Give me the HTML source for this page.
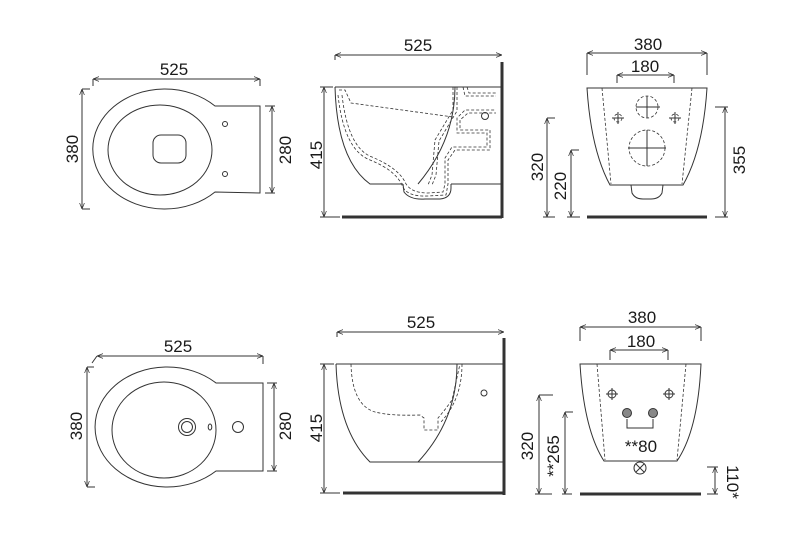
<!DOCTYPE html>
<html><head><meta charset="utf-8"><style>
html,body{margin:0;padding:0;background:#fff;}
svg{display:block}
text{font-family:"Liberation Sans",sans-serif;font-size:17px;fill:#1a1a1a;text-anchor:middle}
</style></head><body>
<svg width="800" height="545" viewBox="0 0 800 545" xmlns="http://www.w3.org/2000/svg">
<defs>
<marker id="a" viewBox="0 0 10 10" refX="10" refY="5" markerWidth="6" markerHeight="6" orient="auto-start-reverse"><path d="M0,1 L10,5 L0,9" fill="none" stroke="#333" stroke-width="1.2"/></marker>
</defs>
<g fill="none" stroke="#333" stroke-width="1">
<!-- ===== TOP LEFT plan ===== -->
<line x1="93" y1="79" x2="260" y2="79" marker-start="url(#a)" marker-end="url(#a)"/>
<line x1="93" y1="79" x2="93" y2="86"/><line x1="260" y1="79" x2="260" y2="86"/>
<line x1="82" y1="89" x2="82" y2="209" marker-start="url(#a)" marker-end="url(#a)"/>
<line x1="82" y1="89" x2="90" y2="89"/><line x1="82" y1="209" x2="90" y2="209"/>
<line x1="272" y1="106" x2="272" y2="193" marker-start="url(#a)" marker-end="url(#a)"/>
<line x1="265" y1="106" x2="275" y2="106"/><line x1="265" y1="193" x2="275" y2="193"/>
<path d="M215,106 A72,60 0 1 0 215,192 L260,193 L260,106 Z"/>
<ellipse cx="160" cy="150" rx="52" ry="45"/>
<rect x="153" y="135" width="33" height="28" rx="8"/>
<circle cx="225" cy="124" r="2.5"/><circle cx="225" cy="174" r="2.5"/>

<!-- ===== TOP MIDDLE side ===== -->
<line x1="335" y1="55" x2="502" y2="55" marker-start="url(#a)" marker-end="url(#a)"/>
<line x1="335" y1="55" x2="335" y2="60"/>
<line x1="324" y1="87" x2="324" y2="217" marker-start="url(#a)" marker-end="url(#a)"/>
<line x1="320" y1="87" x2="333" y2="87"/><line x1="320" y1="217" x2="340" y2="217"/>
<line x1="335" y1="87" x2="502" y2="87"/>
<path d="M335,87 Q337,160 370,184 L403,184"/>
<line x1="451" y1="184" x2="502" y2="184"/>
<path d="M403,184 L404,192 Q410,200 425,199 L440,199 Q451,198 451,188 L451,184"/>
<path d="M455,87 Q455,140 418,184"/>
<line x1="502" y1="62" x2="502" y2="218" stroke-width="3"/>
<line x1="342" y1="217" x2="502" y2="217" stroke-width="3"/>
<circle cx="485" cy="116" r="3.5"/>
<g stroke-dasharray="3,2" stroke-width="0.8">
<path d="M339,90 L345,90 L351,103 L453,117"/>
<path d="M338,95 Q344,150 370,160 Q395,170 402,185 Q406,197 428,196 L446,195 L448,184 L448,160 L455,150 L490,150 L490,130 L460,130 L460,120 L468,113 L496,113"/>
<path d="M342,95 Q348,148 372,157 Q398,168 405,182 Q410,193 428,193 L443,192 L445,184 L445,158 L452,147 L487,147 L487,133 L457,133 L457,118 L465,110 L496,110"/>
<path d="M453,87 L453,110 Q444,125 435,140 L432,175 L428,185"/>
<path d="M457,87 L457,111 Q448,126 439,141 L436,175 L432,185"/>
<path d="M463,87 L465,96 L496,96"/><path d="M467,87 L469,93 L496,93"/>
</g>

<!-- ===== TOP RIGHT front ===== -->
<line x1="587" y1="53" x2="707" y2="53" marker-start="url(#a)" marker-end="url(#a)"/>
<line x1="587" y1="53" x2="587" y2="75"/><line x1="707" y1="53" x2="707" y2="75"/>
<line x1="617" y1="75" x2="674" y2="75" marker-start="url(#a)" marker-end="url(#a)"/>
<line x1="617" y1="75" x2="617" y2="83"/><line x1="674" y1="75" x2="674" y2="83"/>
<path d="M587,88 L707,88 Q703,150 683,185 L610,185 Q591,150 587,88 Z"/>
<path d="M631,185 L632,193 Q635,199 643,199 L651,199 Q659,199 662,193 L663,185"/>
<line x1="587" y1="217" x2="707" y2="217" stroke-width="3"/>
<g stroke-dasharray="3,2" stroke-width="0.8">
<line x1="602" y1="88" x2="611" y2="184"/><line x1="692" y1="88" x2="682" y2="184"/>
<circle cx="647" cy="107" r="11"/><circle cx="647" cy="148" r="18"/>
<circle cx="618" cy="118" r="4"/><circle cx="675" cy="118" r="4"/>
</g>
<line x1="636" y1="107" x2="660" y2="107"/><line x1="647" y1="96" x2="647" y2="118"/>
<line x1="628" y1="148" x2="666" y2="148"/><line x1="647" y1="130" x2="647" y2="166"/>
<line x1="612" y1="118" x2="624" y2="118"/><line x1="618" y1="112" x2="618" y2="124"/>
<line x1="669" y1="118" x2="681" y2="118"/><line x1="675" y1="112" x2="675" y2="124"/>
<line x1="547" y1="118" x2="547" y2="217" marker-start="url(#a)" marker-end="url(#a)"/>
<line x1="547" y1="118" x2="555" y2="118"/><line x1="543" y1="217" x2="555" y2="217"/>
<line x1="571" y1="150" x2="571" y2="217" marker-start="url(#a)" marker-end="url(#a)"/>
<line x1="571" y1="150" x2="579" y2="150"/><line x1="567" y1="217" x2="580" y2="217"/>
<line x1="725" y1="107" x2="725" y2="217" marker-start="url(#a)" marker-end="url(#a)"/>
<line x1="715" y1="107" x2="728" y2="107"/><line x1="715" y1="217" x2="728" y2="217"/>

<!-- ===== BOTTOM LEFT plan ===== -->
<line x1="97" y1="356" x2="263" y2="356" marker-start="url(#a)" marker-end="url(#a)"/>
<line x1="97" y1="356" x2="92" y2="363"/><line x1="263" y1="356" x2="263" y2="364"/>
<line x1="87" y1="367" x2="87" y2="487" marker-start="url(#a)" marker-end="url(#a)"/>
<line x1="87" y1="367" x2="94" y2="367"/><line x1="87" y1="487" x2="95" y2="487"/>
<line x1="274" y1="383" x2="274" y2="471" marker-start="url(#a)" marker-end="url(#a)"/>
<line x1="267" y1="383" x2="277" y2="383"/><line x1="267" y1="471" x2="277" y2="471"/>
<path d="M216,383 A72,60 0 1 0 216,471 L263,471 L263,383 Z"/>
<ellipse cx="164" cy="430" rx="52" ry="48"/>
<circle cx="187" cy="427" r="8.5"/><circle cx="187" cy="427" r="5.5"/>
<ellipse cx="210" cy="427" rx="1.8" ry="3"/>
<circle cx="238" cy="427" r="5.5"/>

<!-- ===== BOTTOM MIDDLE side ===== -->
<line x1="337" y1="332" x2="504" y2="332" marker-start="url(#a)" marker-end="url(#a)"/>
<line x1="337" y1="332" x2="337" y2="337"/>
<line x1="324" y1="364" x2="324" y2="493" marker-start="url(#a)" marker-end="url(#a)"/>
<line x1="320" y1="364" x2="334" y2="364"/><line x1="320" y1="493" x2="340" y2="493"/>
<line x1="336" y1="364" x2="504" y2="364"/>
<path d="M336,364 Q338,430 370,462 L504,462"/>
<path d="M457,364 Q457,420 418,462"/>
<line x1="504" y1="338" x2="504" y2="495" stroke-width="3"/>
<line x1="343" y1="493" x2="504" y2="493" stroke-width="3"/>
<circle cx="484" cy="393" r="3"/>
<g stroke-dasharray="3,2" stroke-width="0.8">
<path d="M351,364 Q352,405 375,412 Q390,416 420,415 L424,418 L424,430 L438,430 L438,418 Q445,410 452,400 L460,364"/>
<path d="M462,364 Q462,400 440,423"/>
</g>

<!-- ===== BOTTOM RIGHT front ===== -->
<line x1="580" y1="327" x2="701" y2="327" marker-start="url(#a)" marker-end="url(#a)"/>
<line x1="580" y1="327" x2="580" y2="341"/><line x1="701" y1="327" x2="701" y2="341"/>
<line x1="610" y1="350" x2="668" y2="350" marker-start="url(#a)" marker-end="url(#a)"/>
<line x1="610" y1="350" x2="610" y2="360"/><line x1="668" y1="350" x2="668" y2="360"/>
<path d="M580,364 L701,364 Q698,430 677,461 L604,461 Q584,430 580,364 Z"/>
<g stroke-dasharray="3,2" stroke-width="0.8">
<line x1="597" y1="364" x2="605" y2="460"/><line x1="686" y1="364" x2="677" y2="460"/>
</g>
<circle cx="612" cy="394" r="4"/><line x1="606" y1="394" x2="618" y2="394"/><line x1="612" y1="388" x2="612" y2="400"/>
<circle cx="669" cy="394" r="4"/><line x1="663" y1="394" x2="675" y2="394"/><line x1="669" y1="388" x2="669" y2="400"/>
<circle cx="627" cy="413" r="4.5" fill="#888"/><circle cx="653" cy="413" r="4.5" fill="#888"/>
<path d="M627,419 L627,428 L653,428 L653,419"/>
<circle cx="640" cy="468" r="6"/><path d="M636,464 L644,472 M644,464 L636,472"/>
<line x1="580" y1="494" x2="701" y2="494" stroke-width="3"/>
<line x1="539" y1="395" x2="539" y2="494" marker-start="url(#a)" marker-end="url(#a)"/>
<line x1="539" y1="395" x2="553" y2="395"/><line x1="535" y1="494" x2="552" y2="494"/>
<line x1="565" y1="412" x2="565" y2="494" marker-start="url(#a)" marker-end="url(#a)"/>
<line x1="565" y1="412" x2="573" y2="412"/><line x1="562" y1="494" x2="572" y2="494"/>
<line x1="715" y1="467" x2="715" y2="494" marker-start="url(#a)" marker-end="url(#a)"/>
<line x1="707" y1="467" x2="718" y2="467"/><line x1="707" y1="494" x2="718" y2="494"/>
</g>

<!-- labels -->
<text x="174" y="75">525</text>
<text x="418" y="51">525</text>
<text x="648" y="50">380</text>
<text x="645" y="72">180</text>
<text transform="translate(78,149) rotate(-90)">380</text>
<text transform="translate(291,150) rotate(-90)">280</text>
<text transform="translate(322,155) rotate(-90)">415</text>
<text transform="translate(543,167) rotate(-90)">320</text>
<text transform="translate(566,186) rotate(-90)">220</text>
<text transform="translate(745,160) rotate(-90)">355</text>

<text x="178" y="352">525</text>
<text x="421" y="328">525</text>
<text x="642" y="323">380</text>
<text x="641" y="347">180</text>
<text transform="translate(82,426) rotate(-90)">380</text>
<text transform="translate(291,426) rotate(-90)">280</text>
<text transform="translate(322,428) rotate(-90)">415</text>
<text transform="translate(533,446) rotate(-90)">320</text>
<text transform="translate(559,456) rotate(-90)">**265</text>
<text x="641" y="452">**80</text>
<text transform="translate(727,482) rotate(90)">110*</text>
</svg>
</body></html>
